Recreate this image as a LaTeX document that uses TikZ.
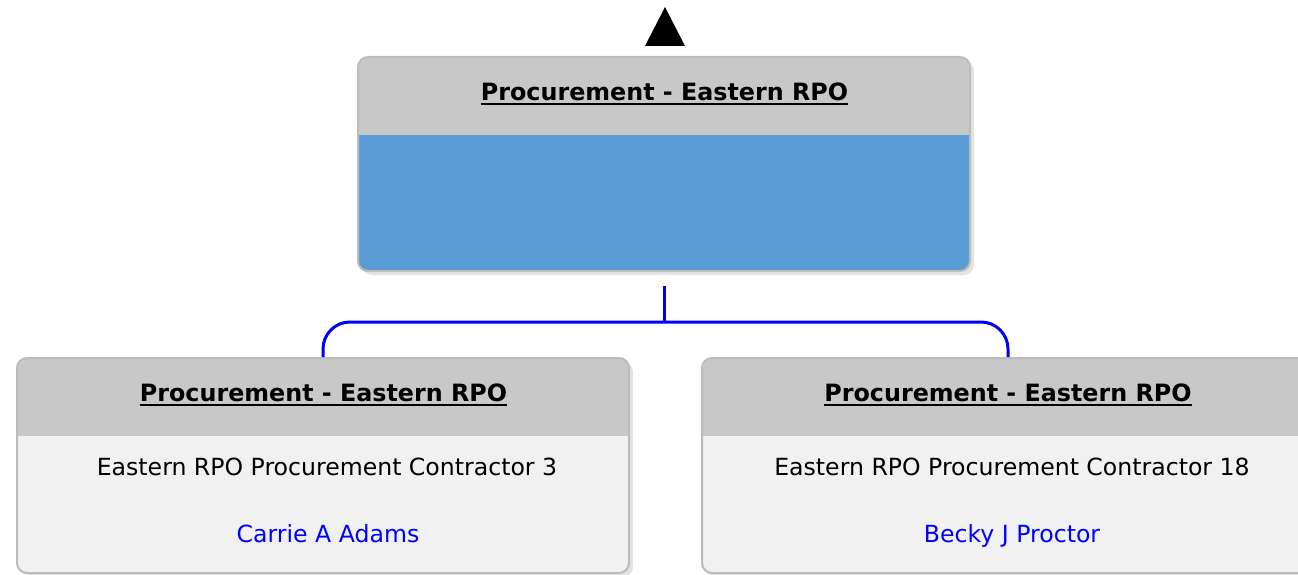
\documentclass[tikz,border=0pt]{standalone}
\usepackage{fontspec}
\setmainfont{DejaVu Sans}
\usetikzlibrary{shadows}
\definecolor{headgray}{RGB}{200,200,200}
\definecolor{bordergray}{RGB}{188,188,188}
\definecolor{bodyblue}{RGB}{91,155,213}
\definecolor{bodylight}{RGB}{241,241,241}
\definecolor{connblue}{RGB}{0,0,245}
\definecolor{nameblue}{RGB}{0,0,255}
\newcommand\hdrul[1]{\setbox0\hbox{#1}\rlap{\rule[-4.5pt]{\wd0}{2.4pt}}\box0}
\tikzset{
  orgbox/.style={draw=bordergray, line width=2pt, rounded corners=10pt,
    minimum width=612pt, minimum height=214pt, inner sep=0pt,
    drop shadow={opacity=0.22, shadow xshift=4pt, shadow yshift=-4pt},
    path picture={\fill[headgray, sharp corners] (path picture bounding box.north west) rectangle ([yshift=-78pt]path picture bounding box.north east);}},
  hdrtext/.style={anchor=base, inner sep=0pt, font=\fontsize{23.8}{28}\selectfont\bfseries},
  bodytext/.style={anchor=base, inner sep=0pt, font=\fontsize{23.6}{28}\selectfont},
  nametext/.style={bodytext, text=nameblue},
  conn/.style={draw=connblue, line width=3pt},
}
\begin{document}
\begin{tikzpicture}[x=1pt,y=-1pt]
\useasboundingbox (0,0) rectangle (1298,575);
% top arrow
\coordinate (tA) at (665,7);
\coordinate (tL) at (645,46);
\coordinate (tR) at (685,46);
\fill[black] (tL) -- (tA) -- (tR) -- cycle;
% boxes
\node[orgbox, fill=bodyblue] (top) at (664,164) {};
\node[orgbox, fill=bodylight, minimum height=215pt] (left) at (323,465.5) {};
\node[orgbox, fill=bodylight, minimum height=215pt] (right) at (1008,465.5) {};
% texts
\node[hdrtext] (topH) at (664.5,100.5) {\hdrul{Procurement - Eastern RPO}};
\node[hdrtext] (leftH) at (323.5,401.5) {\hdrul{Procurement - Eastern RPO}};
\node[hdrtext] (rightH) at (1008,401.5) {\hdrul{Procurement - Eastern RPO}};
\node[bodytext] (leftT) at (327,475) {Eastern RPO Procurement Contractor 3};
\node[bodytext] (rightT) at (1012,475) {Eastern RPO Procurement Contractor 18};
\node[nametext] (leftN) at (328,542) {Carrie A Adams};
\node[nametext] (rightN) at (1012,542) {Becky J Proctor};
% connectors
\coordinate (c0) at (664,286);
\coordinate (c1) at (664,322);
\draw[conn] (c0) -- (c1);
\draw[conn, rounded corners=27pt] (c1) -| (left.north);
\draw[conn, rounded corners=27pt] (c1) -| (right.north);
\end{tikzpicture}
\end{document}
